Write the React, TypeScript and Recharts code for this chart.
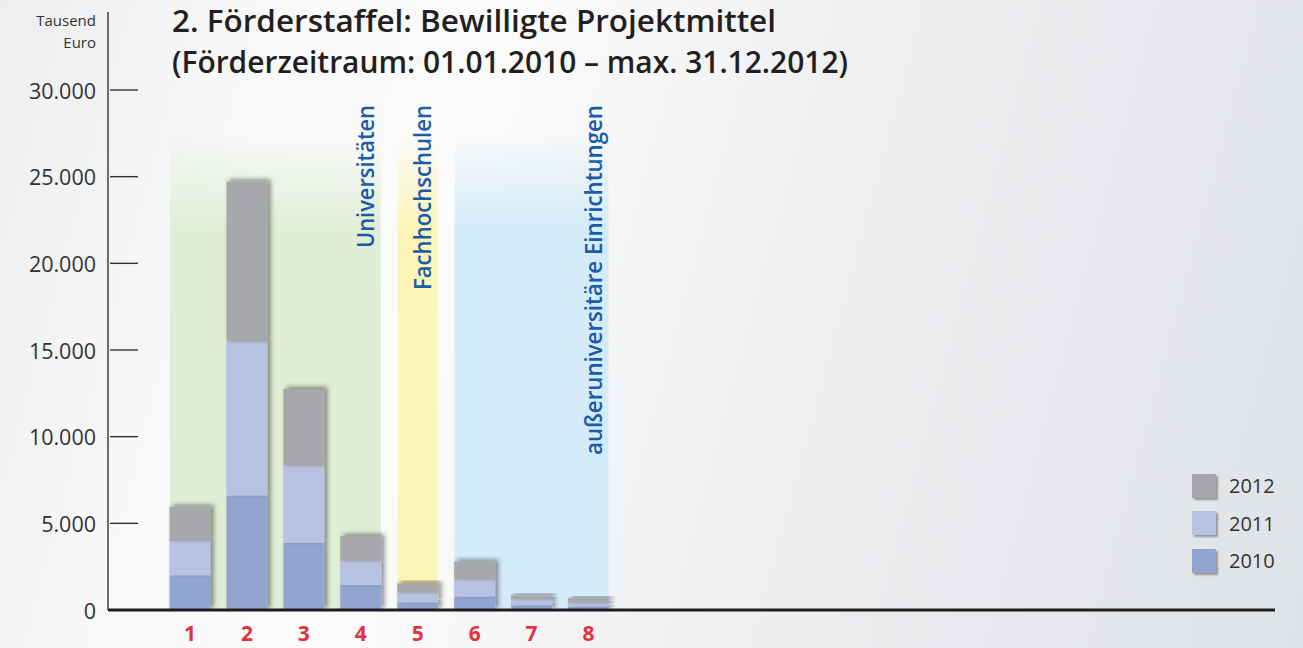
import React from 'react';
import { BarChart, Bar, XAxis, YAxis, ReferenceArea, Legend } from 'recharts';

// Bewilligte Projektmittel je Projekt, in Tausend Euro
const projects = ['1', '2', '3', '4', '5', '6', '7', '8'];
const funds2010 = [2000, 6600, 3880, 1440, 440, 770, 270, 210];
const funds2011 = [1970, 8890, 4440, 1390, 560, 980, 330, 200];
const funds2012 = [1980, 9230, 4430, 1440, 540, 1040, 250, 270];

const yTicks = [0, 5000, 10000, 15000, 20000, 25000, 30000];
const years = ['2012', '2011', '2010'];

// Einrichtungsgruppen (erstes und letztes Projekt)
const groupNames = ['Universitäten', 'Fachhochschulen', 'außeruniversitäre Einrichtungen'];
const groupFrom = ['1', '5', '6'];
const groupTo = ['4', '5', '8'];

const yearColors: Record<string, string> = { '2012': '#a7a8ab', '2011': '#b7c1e1', '2010': '#92a5d0' };
const groupColors = ['#e1eed6', '#fdf5b8', '#d4ebf9'];
const groupLabelLength = [143, 185, 350];

const FONT = '"Open Sans", "DejaVu Sans", sans-serif';

const data = projects.map((p, i) => ({
  name: p,
  y2010: funds2010[i],
  y2011: funds2011[i],
  y2012: funds2012[i],
}));

const fmt = (v: number) => String(v).replace(/\B(?=(\d{3})+(?!\d))/g, '.');

const YTick = (props: any) => {
  const { x, y, payload } = props;
  return (
    <g>
      <text x={x} y={y} textAnchor="end" dominantBaseline="central" fontSize={21.5} fill="#333" fontFamily={FONT}>
        {fmt(payload.value)}
      </text>
      {payload.value > 0 && <line x1={x + 14} x2={x + 42} y1={y} y2={y} stroke="#333" strokeWidth={1.4} />}
    </g>
  );
};

const ShadowRect = (props: any) => {
  const { x, y, width, height, fill } = props;
  if (!height || height <= 0) return null;
  return <rect x={x} y={y} width={width} height={height} fill={fill} filter="url(#barShadow)" />;
};

const groupShape = (idx: number) => (props: any) => {
  const { x, y, width, height } = props;
  const inset = 8.5;
  const right = x + width - inset;
  return (
    <g>
      <rect x={x + inset} y={y} width={width - inset * 2} height={height} fill={`url(#band${idx})`} />
      <text
        x={right - 7}
        y={105}
        transform={`rotate(-90, ${right - 7}, 105)`}
        textAnchor="end"
        fontSize={23}
        fontWeight={600}
        fill="#1b5ba7"
        fontFamily={FONT}
        textLength={groupLabelLength[idx]}
        lengthAdjust="spacingAndGlyphs"
      >
        {groupNames[idx]}
      </text>
    </g>
  );
};

const YearLegend = () => (
  <div style={{ fontFamily: FONT }}>
    {years.map((yr) => (
      <div key={yr} style={{ display: 'flex', alignItems: 'center', height: 37.5 }}>
        <div
          style={{
            width: 24,
            height: 24,
            background: yearColors[yr],
            boxShadow: '2px 2px 2px rgba(0,0,0,0.35)',
            marginRight: 13,
          }}
        />
        <span style={{ fontSize: 20, color: '#333' }}>{yr}</span>
      </div>
    ))}
  </div>
);

export default function App() {
  return (
    <div
      style={{
        position: 'absolute',
        left: 0,
        top: 0,
        width: 1303,
        height: 648,
        overflow: 'hidden',
        background: 'linear-gradient(105deg, #eceef0 0%, #f9f9fa 20%, #fbfbfb 35%, #eeeff1 60%, #e0e3e6 100%)',
      }}
    >
      <BarChart width={1303} height={648} data={data} margin={{ top: 12, right: 28, bottom: 0, left: 0 }}>
        <defs>
          <filter id="barShadow" x="-30%" y="-30%" width="160%" height="160%">
            <feDropShadow dx={3} dy={-2} stdDeviation={2.5} floodColor="#000" floodOpacity={0.45} />
          </filter>
          {groupColors.map((c, i) => (
            <linearGradient key={i} id={`band${i}`} x1="0" y1="0" x2="0" y2="1">
              <stop offset="0%" stopColor={c} stopOpacity={0} />
              <stop offset="20%" stopColor={c} stopOpacity={1} />
              <stop offset="100%" stopColor={c} stopOpacity={1} />
            </linearGradient>
          ))}
        </defs>
        <XAxis
          dataKey="name"
          height={38}
          padding={{ left: 53.5, right: 658 }}
          axisLine={{ stroke: '#1e1e1e', strokeWidth: 3.2 }}
          tickLine={false}
          tickSize={0}
          tickMargin={16}
          tick={{ fill: '#e2323c', fontSize: 21, fontWeight: 700, fontFamily: FONT }}
          interval={0}
        />
        <YAxis
          width={108}
          domain={[0, 34500]}
          ticks={yTicks}
          axisLine={{ stroke: '#333', strokeWidth: 1.4 }}
          tickLine={false}
          tickSize={0}
          tickMargin={12}
          tick={<YTick />}
          interval={0}
        />
        {groupNames.map((g, i) => (
          <ReferenceArea
            key={g}
            x1={groupFrom[i]}
            x2={groupTo[i]}
            y1={0}
            y2={27500}
            shape={groupShape(i)}
          />
        ))}
        <Bar dataKey="y2010" name="2010" stackId="a" fill={yearColors['2010']} barSize={41} shape={<ShadowRect />} isAnimationActive={false} />
        <Bar dataKey="y2011" name="2011" stackId="a" fill={yearColors['2011']} barSize={41} shape={<ShadowRect />} isAnimationActive={false} />
        <Bar dataKey="y2012" name="2012" stackId="a" fill={yearColors['2012']} barSize={41} shape={<ShadowRect />} isAnimationActive={false} />
        <Legend
          layout="vertical"
          align="center"
          verticalAlign="middle"
          wrapperStyle={{ left: 1192, top: 467, width: 110 }}
          content={<YearLegend />}
        />
      </BarChart>
      <svg width={1303} height={100} style={{ position: 'absolute', left: 0, top: 0, pointerEvents: 'none' }}>
        <text x={96} y={26} textAnchor="end" fontSize={15} fill="#333" fontFamily={FONT}>Tausend</text>
        <text x={96} y={48} textAnchor="end" fontSize={15} fill="#333" fontFamily={FONT}>Euro</text>
        <text x={172} y={32} fontSize={30} fontWeight={600} fill="#231f20" fontFamily={FONT} textLength={604} lengthAdjust="spacingAndGlyphs">
          2. Förderstaffel: Bewilligte Projektmittel
        </text>
        <text x={172} y={73} fontSize={30} fontWeight={600} fill="#231f20" fontFamily={FONT} textLength={676} lengthAdjust="spacingAndGlyphs">
          (Förderzeitraum: 01.01.2010 – max. 31.12.2012)
        </text>
      </svg>
    </div>
  );
}
